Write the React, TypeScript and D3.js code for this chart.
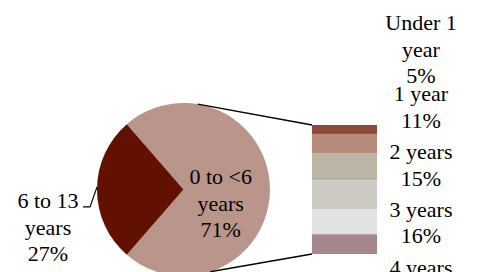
import { useEffect, useRef } from 'react';
import * as d3 from 'd3';

// pie: the aggregated "0 to <6" slice plus the 6 to 13 slice
const pieLabels = [['0 to <6', 'years', '71%'], ['6 to 13', 'years', '27%']];
const pieColors = ['#b9958c', '#621100'];
const olderValue = 27;

// bar: breakdown of 0 to <6 years
const barCategories = ['Under 1 year', '1 year', '2 years', '3 years', '4 years', '5 years'];
const barValues = [5, 11, 15, 16, 14, 11];
const barLabels = [
  ['Under 1', 'year', '5%'],
  ['1 year', '11%'],
  ['2 years', '15%'],
  ['3 years', '16%'],
  ['4 years', '14%'],
  ['5 years', '11%'],
];
const barColors = ['#8b4a35', '#b78b79', '#bab5a5', '#cccac2', '#e2e2e2', '#a3878a'];

const W = 477;
const H = 272;
const FONT = "'Liberation Serif', 'Times New Roman', serif";
const FS = 22;
const LH = 26.6;
const CAP = 14;

export default function App() {
  const svgRef = useRef<SVGSVGElement>(null);

  useEffect(() => {
    if (!svgRef.current) return;
    const svg = d3.select(svgRef.current);
    svg.selectAll('*').remove();

    const cx = 183.5;
    const cy = 189.5;
    const r = 86.5;

    const otherValue = d3.sum(barValues);
    const pieValues = [otherValue, olderValue];
    const total = d3.sum(pieValues);
    // aggregated slice faces the bar (3 o'clock)
    const a0 = Math.PI / 2 - Math.PI * (otherValue / total);

    const pie = d3.pie<number>().sort(null).startAngle(a0).endAngle(a0 + 2 * Math.PI);
    const arcs = pie(pieValues);
    const arc = d3.arc<d3.PieArcDatum<number>>().innerRadius(0).outerRadius(r);

    const g = svg.append('g').attr('transform', `translate(${cx},${cy})`);
    g.selectAll('path.slice')
      .data(arcs)
      .enter()
      .append('path')
      .attr('class', 'slice')
      .attr('fill', (_, i) => pieColors[i])
      .attr('d', arc);

    const onCircle = (a: number, rr = r): [number, number] => [cx + rr * Math.sin(a), cy - rr * Math.cos(a)];

    // bar
    const barX = 312;
    const barW = 65;
    const y = d3.scaleLinear().domain([0, otherValue]).range([125, 254]);
    const ends = Array.from(d3.cumsum(barValues));
    const starts = ends.map((e, i) => e - barValues[i]);

    svg.append('g')
      .selectAll('rect')
      .data(barCategories)
      .enter()
      .append('rect')
      .attr('x', barX)
      .attr('width', barW)
      .attr('y', (_, i) => y(starts[i]))
      .attr('height', (_, i) => y(ends[i]) - y(starts[i]))
      .attr('fill', (_, i) => barColors[i]);

    // connector lines
    const topPt = onCircle((9.5 * Math.PI) / 180);
    const botPt = onCircle((162 * Math.PI) / 180);
    const conn = [
      [topPt, [barX, y(0)]],
      [botPt, [barX, y(otherValue)]],
    ];
    svg.append('g')
      .selectAll('line')
      .data(conn)
      .enter()
      .append('line')
      .attr('x1', d => d[0][0])
      .attr('y1', d => d[0][1])
      .attr('x2', d => d[1][0])
      .attr('y2', d => d[1][1])
      .attr('stroke', '#000')
      .attr('stroke-width', 1.4);

    const block = (parent: d3.Selection<SVGGElement, unknown, null, undefined>, lines: string[], x: number, center: number) => {
      const b1 = center - ((lines.length - 1) * LH - CAP) / 2;
      const t = parent.append('text')
        .attr('text-anchor', 'middle')
        .attr('font-family', FONT)
        .attr('font-size', FS)
        .attr('fill', '#000');
      lines.forEach((s, i) => {
        t.append('tspan').attr('x', x).attr('y', b1 + i * LH).text(s);
      });
    };

    const labels = svg.append('g');

    // label inside the big slice
    const labelArc = d3.arc<d3.PieArcDatum<number>>().innerRadius(r * 0.43).outerRadius(r * 0.43);
    const [lx, ly] = labelArc.centroid(arcs[0]);
    block(labels, pieLabels[0], cx + lx, cy + ly + 14);

    // outside label for 6 to 13 with leader
    const mid = (arcs[1].startAngle + arcs[1].endAngle) / 2;
    const p = onCircle(mid + 0.03);
    const elbow: [number, number] = [p[0] - 7, p[1] + 20];
    const end: [number, number] = [elbow[0] - 7, elbow[1]];
    labels.append('path')
      .attr('d', d3.line()([p, elbow, end]))
      .attr('fill', 'none')
      .attr('stroke', '#000')
      .attr('stroke-width', 1.2);
    const first = pieLabels[1];
    block(labels, first, end[0] - 35, end[1] + 1 - CAP + ((first.length - 1) * LH + CAP) / 2);

    // bar labels, evenly spread to the right of the bar
    const labelY = d3.scaleLinear().domain([0, 4]).range([49.6, 280.8]);
    barLabels.forEach((lines, i) => {
      block(labels, lines, barX + barW + 44, labelY(i));
    });
  }, []);

  return (
    <svg
      ref={svgRef}
      width={W}
      height={H}
      style={{ position: 'absolute', left: 0, top: 0, background: '#fff' }}
    />
  );
}
